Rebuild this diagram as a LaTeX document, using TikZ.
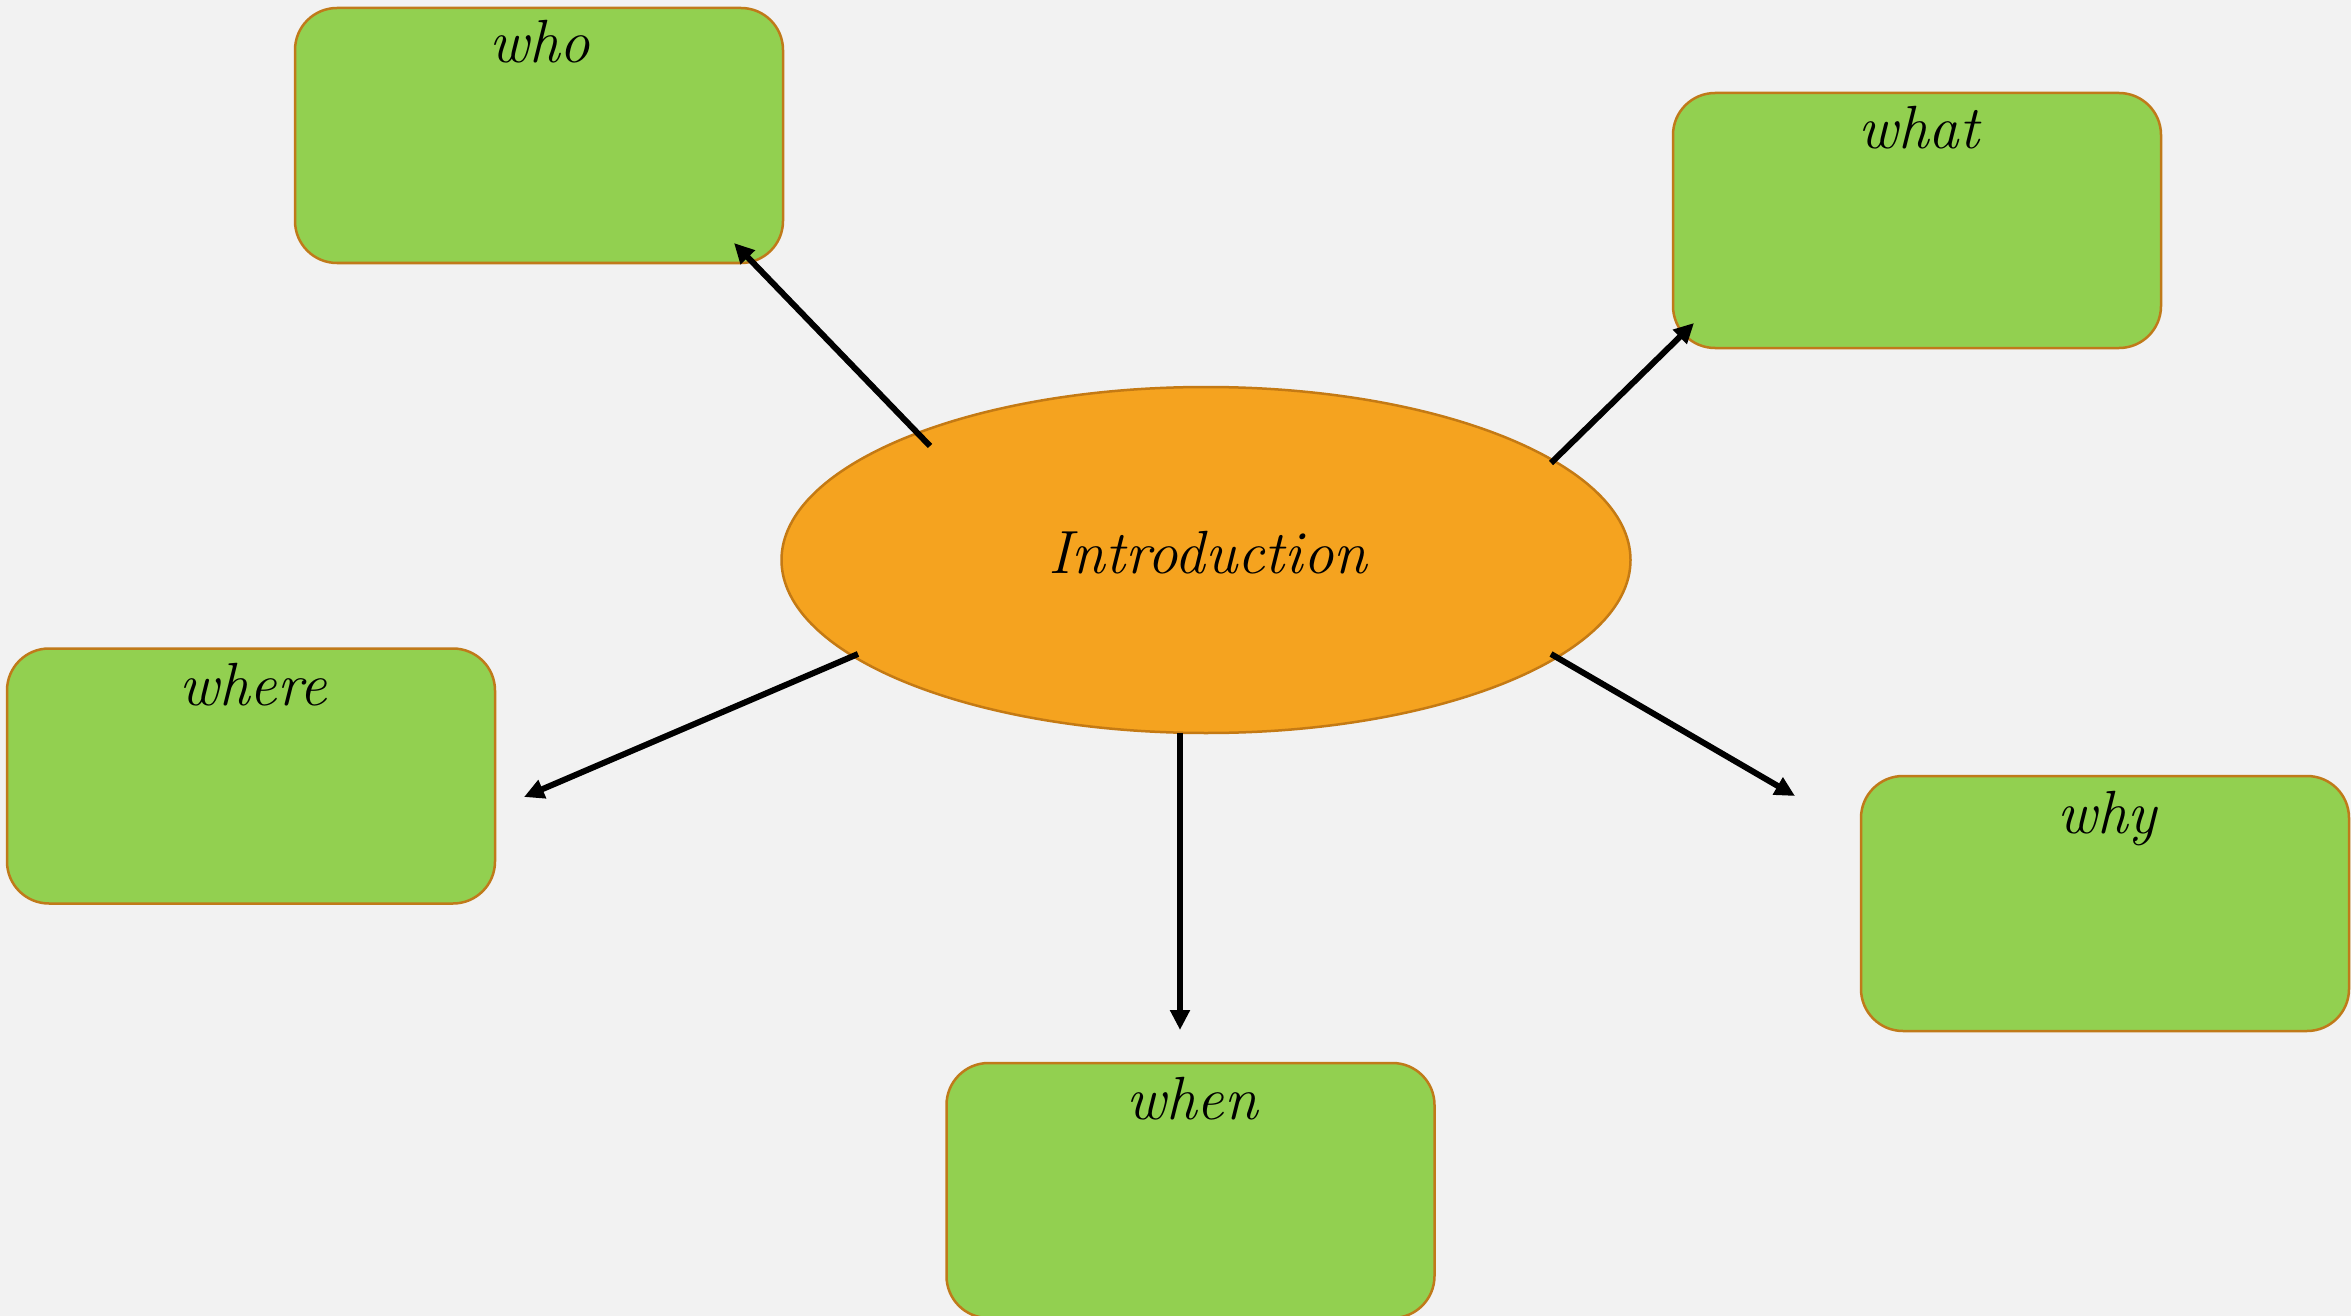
\documentclass[tikz,border=0pt]{standalone}
\usetikzlibrary{arrows.meta,shapes.geometric}
\definecolor{bg}{HTML}{F2F2F2}
\definecolor{boxgreen}{HTML}{92D050}
\definecolor{boxline}{HTML}{C07A1A}
\definecolor{ellfill}{HTML}{F5A31F}
\definecolor{ellline}{HTML}{C47A14}
\begin{document}
\begin{tikzpicture}[x=1pt,y=-1pt,
  qbox/.style={draw=boxline,line width=2.5pt,fill=boxgreen,rounded corners=42pt,
    minimum width=488pt,minimum height=255pt,inner sep=0pt},
  lbl/.style={anchor=base,inner sep=0pt,font=\fontsize{61}{70}\selectfont\itshape},
  conn/.style={line width=6pt,-{Triangle[length=20pt,width=19pt]}}]
\useasboundingbox (0,0) rectangle (2351,1316);
\fill[bg] (0,0) rectangle (2351,1316);
% boxes
\node[qbox] (who)   at (539,135.5) {};
\node[qbox] (what)  at (1917,220.5) {};
\node[qbox] (where) at (251,776) {};
\node[qbox] (why)   at (2105,903.5) {};
\node[qbox] (when)  at (1190.5,1190.5) {};
% labels
\node[lbl] (whot)   at (540,63) {who};
\node[lbl] (whatt)  at (1919,149) {what};
\node[lbl] (wheret) at (253,705) {where};
\node[lbl] (whyt)   at (2107,833) {why};
\node[lbl] (whent)  at (1192,1119) {when};
% ellipse
\node[ellipse,draw=ellline,line width=2.5pt,fill=ellfill,minimum width=849pt,minimum height=346pt,inner sep=0pt] (intro) at (1206,560) {};
\node[lbl] (introt) at (1208,573) {Introduction};
% connector ends
\coordinate (s1) at (930,446);
\coordinate (e1) at (734,243);
\coordinate (s2) at (1551,463);
\coordinate (e2) at (1694,323);
\coordinate (s3) at (858,654);
\coordinate (e3) at (524,797);
\coordinate (s4) at (1180,733);
\coordinate (e4) at (1180,1030);
\coordinate (s5) at (1551,654);
\coordinate (e5) at (1795,796);
\draw[conn] (s1) -- (e1);
\draw[conn] (s2) -- (e2);
\draw[conn] (s3) -- (e3);
\draw[conn] (s4) -- (e4);
\draw[conn] (s5) -- (e5);
\end{tikzpicture}
\end{document}
